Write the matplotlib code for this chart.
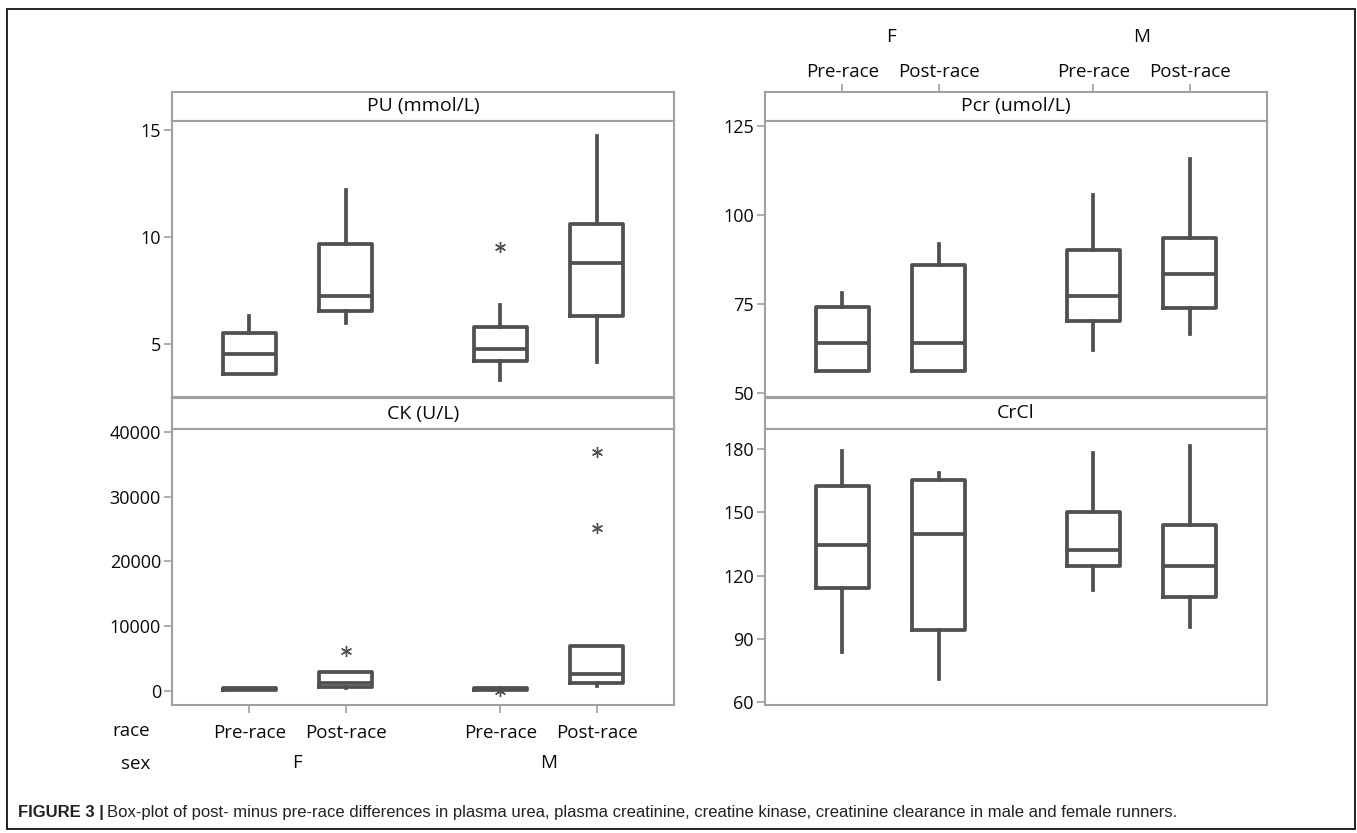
"""Box-plot of post- minus pre-race differences (PU, Pcr, CK, CrCl) by sex."""
import matplotlib
matplotlib.use('Agg')
import matplotlib.pyplot as plt
from matplotlib.patches import Rectangle
from matplotlib.transforms import blended_transform_factory

plt.rcParams['font.family'] = ['Open Sans', 'DejaVu Sans']

W, H = 1357, 833

RACE = ['Pre-race', 'Post-race', 'Pre-race', 'Post-race']
SEX = ['F', 'M']
POS = [1, 2, 3.6, 4.6]

# PU (mmol/L)
PU_LO = [3.6, 6.0, 3.3, 4.15]
PU_Q1 = [3.6, 6.55, 4.2, 6.3]
PU_MED = [4.55, 7.25, 4.75, 8.8]
PU_Q3 = [5.5, 9.65, 5.8, 10.6]
PU_HI = [6.3, 12.2, 6.8, 14.7]
PU_OUT = [[], [], [9.55], []]

# Pcr (umol/L)
PCR_LO = [56.1, 56.1, 62.1, 66.6]
PCR_Q1 = [56.1, 56.1, 70.2, 73.9]
PCR_MED = [64.2, 64.2, 77.2, 83.5]
PCR_Q3 = [74.2, 86.1, 90.3, 93.5]
PCR_HI = [78.2, 91.9, 105.7, 115.7]
PCR_OUT = [[], [], [], []]

# CK (U/L)
CK_LO = [150, 400, 150, 850]
CK_Q1 = [180, 550, 180, 1250]
CK_MED = [250, 1200, 250, 2700]
CK_Q3 = [400, 3000, 400, 7000]
CK_HI = [450, 3000, 450, 7000]
CK_OUT = [[], [6200], [0], [25200, 36900]]

# CrCl
CRCL_LO = [83.6, 71.0, 113.2, 95.4]
CRCL_Q1 = [113.9, 94.3, 124.5, 109.7]
CRCL_MED = [134.4, 139.9, 132.0, 124.5]
CRCL_Q3 = [162.7, 165.1, 150.1, 143.8]
CRCL_HI = [179.2, 168.5, 178.1, 181.3]
CRCL_OUT = [[], [], [], []]

BOX = '#505050'
FRAME = '#a0a0a0'
TXT = '#0a0a0a'
TICK_FS = 13
CAT_FS = 13.5
HDR_FS = 14


def fx(px):
    return px / W


def fy(py):
    return 1 - py / H


def stats(lo, q1, med, q3, hi, out):
    return [dict(whislo=a, q1=b, med=c, q3=d, whishi=e, fliers=f)
            for a, b, c, d, e, f in zip(lo, q1, med, q3, hi, out)]


def panel(x0, top, hh, title, data, ylim, yticks):
    # header strip
    hdr = fig.add_axes([fx(x0), fy(top + hh), fx(502), hh / H])
    hdr.set_xticks([]); hdr.set_yticks([])
    for s in hdr.spines.values():
        s.set_color(FRAME); s.set_linewidth(1.5)
    hdr.text(0.5, 0.5, title, ha='center', va='center', fontsize=HDR_FS,
             color=TXT, transform=hdr.transAxes)

    ax = fig.add_axes([fx(x0), fy(top + hh + 276), fx(502), 276 / H])
    ax.bxp(stats(*data), positions=POS, widths=0.55, showcaps=False,
           boxprops=dict(color=BOX, linewidth=2.7),
           medianprops=dict(color=BOX, linewidth=2.7),
           whiskerprops=dict(color=BOX, linewidth=2.7),
           flierprops=dict(marker=(6, 2, 0), markersize=8, markeredgecolor=BOX,
                           markerfacecolor=BOX, markeredgewidth=1.0))
    ax.set_xlim(0.2, 5.4)
    ax.set_ylim(*ylim)
    ax.set_yticks(yticks)
    ax.set_xticks([])
    ax.tick_params(axis='y', length=6, width=1.2, color=FRAME, labelsize=TICK_FS,
                   labelcolor=TXT, pad=2)
    for s in ax.spines.values():
        s.set_color(FRAME); s.set_linewidth(1.5)
    return hdr, ax


fig = plt.figure(figsize=(W / 100, H / 100), dpi=100)

# outer frame
fig.patches.append(Rectangle((fx(7), fy(829)), fx(1348), (829 - 9) / H,
                             transform=fig.transFigure, fill=False,
                             edgecolor='#222222', linewidth=1.4))

panel(172, 92, 29, 'PU (mmol/L)',
      (PU_LO, PU_Q1, PU_MED, PU_Q3, PU_HI, PU_OUT), (2.52, 15.42), [5, 10, 15])
hdr_pcr, ax_pcr = panel(765, 92, 29, 'Pcr (umol/L)',
                        (PCR_LO, PCR_Q1, PCR_MED, PCR_Q3, PCR_HI, PCR_OUT),
                        (48.9, 126.4), [50, 75, 100, 125])
_, ax_ck = panel(172, 398, 31, 'CK (U/L)',
                 (CK_LO, CK_Q1, CK_MED, CK_Q3, CK_HI, CK_OUT),
                 (-2160, 40460), [0, 10000, 20000, 30000, 40000])
panel(765, 398, 31, 'CrCl',
      (CRCL_LO, CRCL_Q1, CRCL_MED, CRCL_Q3, CRCL_HI, CRCL_OUT),
      (58.6, 189.5), [60, 90, 120, 150, 180])

# bottom category axis (left column)
ax_ck.set_xticks(POS)
ax_ck.set_xticklabels(RACE)
ax_ck.tick_params(axis='x', length=6, width=1.2, color=FRAME, labelsize=CAT_FS,
                  labelcolor=TXT, pad=8)
tr = blended_transform_factory(ax_ck.transData, fig.transFigure)
for i, s in enumerate(SEX):
    ax_ck.text((POS[2 * i] + POS[2 * i + 1]) / 2, fy(763), s, transform=tr,
               ha='center', va='center', fontsize=CAT_FS, color=TXT)
fig.text(fx(150), fy(731), 'race', ha='right', va='center', fontsize=CAT_FS, color=TXT)
fig.text(fx(150), fy(764), 'sex', ha='right', va='center', fontsize=CAT_FS, color=TXT)

# top category axis (right column)
hdr_pcr.set_xlim(0.2, 5.4)
hdr_pcr.set_xticks(POS)
hdr_pcr.set_xticklabels(RACE)
hdr_pcr.tick_params(axis='x', top=True, bottom=False, labeltop=True,
                    labelbottom=False, length=6, width=1.2, color=FRAME,
                    labelsize=CAT_FS, labelcolor=TXT, pad=2)
tr = blended_transform_factory(hdr_pcr.transData, fig.transFigure)
for i, s in enumerate(SEX):
    hdr_pcr.text((POS[2 * i] + POS[2 * i + 1]) / 2, fy(37), s, transform=tr,
                 ha='center', va='center', fontsize=CAT_FS, color=TXT)

# caption
cap_y = fy(812)
cap_fam = ['Liberation Sans Narrow', 'Liberation Sans']
r = fig.canvas.get_renderer()
t1 = fig.text(fx(18), cap_y, 'FIGURE 3 |', ha='left', va='center', fontsize=12,
              fontweight='bold', family=cap_fam, color='#222222')
bb = t1.get_window_extent(renderer=r)
fig.text(bb.x1 / W + fx(3), cap_y,
         'Box-plot of post- minus pre-race differences in plasma urea, plasma creatinine, '
         'creatine kinase, creatinine clearance in male and female runners.',
         ha='left', va='center', fontsize=12, family=cap_fam, color='#222222')

fig.savefig('out.png', dpi=100)
